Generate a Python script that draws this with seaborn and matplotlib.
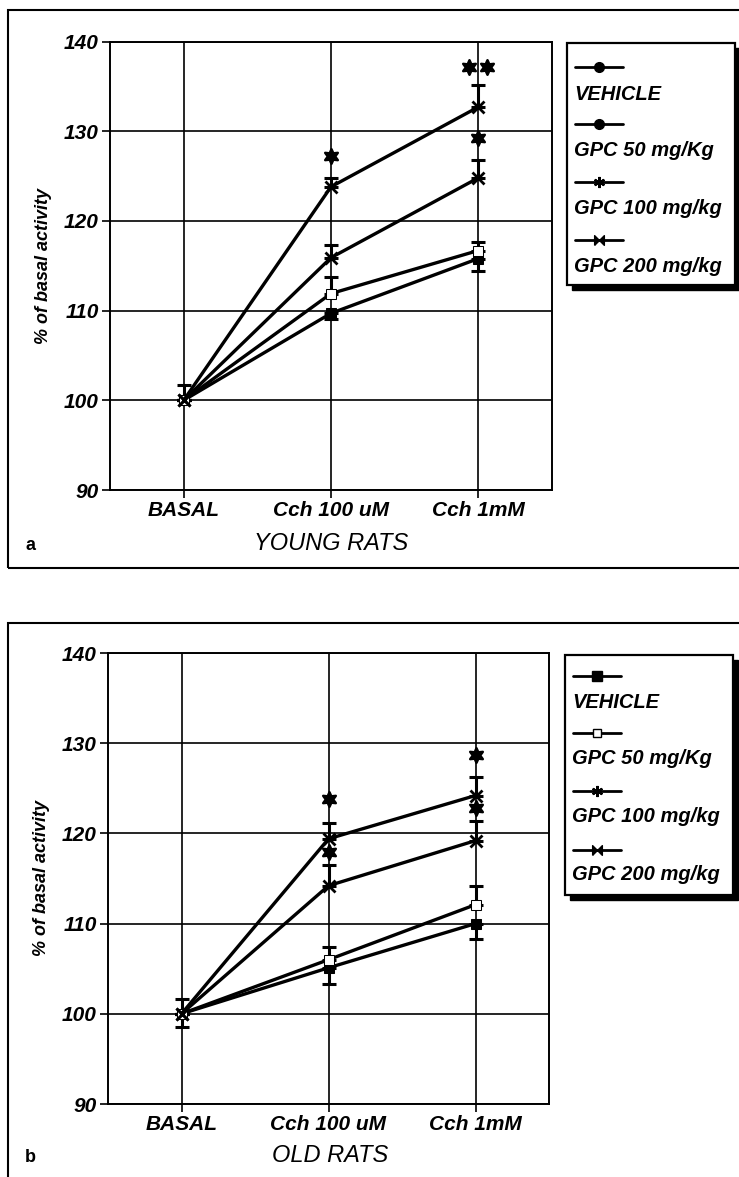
import numpy as np
import pandas as pd
import matplotlib
matplotlib.use("Agg")
import matplotlib.pyplot as plt
import matplotlib.transforms as mtransforms
from matplotlib.patches import Rectangle
from matplotlib.lines import Line2D
import seaborn as sns

# ---------------- data ----------------
categories = ["BASAL", "Cch 100 uM", "Cch 1mM"]
series = ["VEHICLE", "GPC 50 mg/Kg", "GPC 100 mg/kg", "GPC 200 mg/kg"]
yticks = [90, 100, 110, 120, 130, 140]

# panel a: young rats
young_vehicle = [100, 109.7, 115.8]
young_gpc50 = [100, 111.9, 116.7]
young_gpc100 = [100, 115.9, 124.8]
young_gpc200 = [100, 123.8, 132.7]
young_err_lo = {"VEHICLE": [0, 0.6, 1.4], "GPC 50 mg/Kg": [0, 0, 0],
                "GPC 100 mg/kg": [0, 0, 0], "GPC 200 mg/kg": [0, 0, 0]}
young_err_hi = {"VEHICLE": [0, 0, 0], "GPC 50 mg/Kg": [1.7, 1.9, 1.0],
                "GPC 100 mg/kg": [0, 1.4, 2.0], "GPC 200 mg/kg": [0, 1.0, 2.4]}
young_sig_cat = [1, 2, 2]
young_sig_y = [127.2, 129.2, 137.2]
young_sig_n = [1, 1, 2]

# panel b: old rats
old_vehicle = [100, 105.1, 110.0]
old_gpc50 = [100, 106.0, 112.1]
old_gpc100 = [100, 114.2, 119.2]
old_gpc200 = [100, 119.4, 124.2]
old_err_lo = {"VEHICLE": [1.5, 1.8, 1.7], "GPC 50 mg/Kg": [0, 0, 0],
              "GPC 100 mg/kg": [0, 0, 0], "GPC 200 mg/kg": [0, 0, 0]}
old_err_hi = {"VEHICLE": [0, 0, 0], "GPC 50 mg/Kg": [1.6, 1.4, 2.1],
              "GPC 100 mg/kg": [0, 2.3, 2.2], "GPC 200 mg/kg": [0, 1.7, 2.1]}
old_sig_cat = [1, 1, 2, 2]
old_sig_y = [123.8, 117.9, 128.7, 122.8]
old_sig_n = [1, 1, 1, 1]

# ---------------- style ----------------
sns.set_style("white")
FONT = ["Liberation Sans Narrow", "Liberation Sans", "DejaVu Sans"]
plt.rcParams["font.family"] = FONT
for key in ["text.color", "axes.labelcolor", "xtick.color", "ytick.color", "axes.edgecolor"]:
    plt.rcParams[key] = "black"

W, H = 739, 1177
fig = plt.figure(figsize=(W / 100, H / 100), dpi=100)


def fx(px):
    return px / W


def fy(py):
    return 1 - py / H


bowtie = [(-1, -1), (1, 1), (1, -1), (-1, 1), (-1, -1)]
mstyle = {
    "VEHICLE": dict(marker="s", markersize=7, markerfacecolor="black"),
    "GPC 50 mg/Kg": dict(marker="s", markersize=7, markerfacecolor="white"),
    "GPC 100 mg/kg": dict(marker="x", markersize=8, markerfacecolor="black", markeredgewidth=2),
    "GPC 200 mg/kg": dict(marker="x", markersize=9, markerfacecolor="black", markeredgewidth=2),
}
legend_style_a = {
    "VEHICLE": dict(marker="o", markersize=7, markerfacecolor="black"),
    "GPC 50 mg/Kg": dict(marker="o", markersize=7, markerfacecolor="black"),
    "GPC 100 mg/kg": dict(marker=(6, 2, 0), markersize=8, markeredgewidth=1.5),
    "GPC 200 mg/kg": dict(marker=bowtie, markersize=7, markerfacecolor="black"),
}
legend_style_b = {
    "VEHICLE": dict(marker="s", markersize=7, markerfacecolor="black"),
    "GPC 50 mg/Kg": dict(marker="s", markersize=6, markerfacecolor="white"),
    "GPC 100 mg/kg": dict(marker=(6, 2, 0), markersize=8, markeredgewidth=1.5),
    "GPC 200 mg/kg": dict(marker=bowtie, markersize=7, markerfacecolor="black"),
}


def draw_panel(ax, vals, err_lo, err_hi, sig_cat, sig_y, sig_n):
    x = np.arange(len(categories))
    for name, v in zip(series, vals):
        st = dict(mstyle[name])
        sns.lineplot(x=x, y=v, ax=ax, color="black", lw=2.4, errorbar=None,
                     markeredgecolor="black", legend=False, zorder=4, **st)
        ax.errorbar(x, v, yerr=[err_lo[name], err_hi[name]], fmt="none",
                    ecolor="black", elinewidth=2.2, capsize=5, capthick=2.2, zorder=3)
    # significance markers
    for c, yv, n in zip(sig_cat, sig_y, sig_n):
        offs = [0] if n == 1 else [-9, 9]
        for o in offs:
            tr = ax.transData + mtransforms.ScaledTranslation(o / 100, 0, fig.dpi_scale_trans)
            ax.scatter([c], [yv], marker=(6, 1, 0), s=110, color="black",
                       linewidths=1.8, transform=tr, zorder=5)
    ax.set_xlim(-0.5, 2.5)
    ax.set_ylim(90, 140)
    ax.set_yticks(yticks)
    ax.set_xticks(x)
    ax.set_xticklabels(categories)
    ax.grid(True, color="black", lw=1.2, zorder=1)
    ax.set_axisbelow(True)
    for sp in ax.spines.values():
        sp.set_color("black")
        sp.set_linewidth(1.4)
    ax.tick_params(axis="both", direction="out", length=6, width=1.2, color="black",
                   labelcolor="black", left=True, bottom=True, pad=2)
    for lab in ax.get_yticklabels():
        lab.set_fontsize(15)
        lab.set_fontweight("bold")
        lab.set_fontstyle("italic")
    for lab in ax.get_xticklabels():
        lab.set_fontsize(15)
        lab.set_fontweight("bold")
        lab.set_fontstyle("italic")
    ax.set_ylabel("% of basal activity", fontsize=13, fontweight="bold",
                  fontstyle="italic", labelpad=9, color="black")
    ax.set_xlabel("")


def draw_legend(x0, y0, x1, y1, styles, handle_rows, label_rows):
    # shadow
    fig.patches.append(Rectangle((fx(x0 + 5), fy(y1 + 5)), (x1 - x0) / W, (y1 - y0) / H,
                                 transform=fig.transFigure, facecolor="black",
                                 edgecolor="black", zorder=1))
    fig.patches.append(Rectangle((fx(x0), fy(y1)), (x1 - x0) / W, (y1 - y0) / H,
                                 transform=fig.transFigure, facecolor="white",
                                 edgecolor="black", lw=1.6, zorder=2))
    for name, hy, ly in zip(series, handle_rows, label_rows):
        ln = Line2D([fx(x0 + 8), fx(x0 + 56)], [fy(hy), fy(hy)], color="black", lw=2,
                    transform=fig.transFigure, zorder=3)
        fig.lines.append(ln)
        mk = Line2D([fx(x0 + 32)], [fy(hy)], color="black", lw=0, markeredgecolor="black",
                    transform=fig.transFigure, zorder=4, **styles[name])
        fig.lines.append(mk)
        fig.text(fx(x0 + 7), fy(ly), name, fontsize=14.5, fontweight="bold",
                 fontstyle="italic", va="center", ha="left", zorder=5, color="black")


# ---------------- outer frames ----------------
fig.patches.append(Rectangle((fx(8), fy(568)), 1.0, (568 - 10) / H, transform=fig.transFigure,
                             fill=False, edgecolor="black", lw=1.5))
fig.patches.append(Rectangle((fx(8), fy(1200)), 1.0, (1200 - 623) / H, transform=fig.transFigure,
                             fill=False, edgecolor="black", lw=1.5))

# ---------------- panel a ----------------
ax1 = fig.add_axes([fx(110), fy(490), (552 - 110) / W, (490 - 41.5) / H])
draw_panel(ax1, [young_vehicle, young_gpc50, young_gpc100, young_gpc200],
           young_err_lo, young_err_hi, young_sig_cat, young_sig_y, young_sig_n)
fig.text(fx(331), fy(544), "YOUNG RATS", fontsize=17, fontstyle="italic",
         ha="center", va="center", color="black")
fig.text(fx(30), fy(545), "a", fontsize=13, fontweight="bold", ha="center", va="center",
         color="black")
draw_legend(567, 43, 735, 285, legend_style_a, [67, 124, 182, 240], [94, 151, 209, 266])

# ---------------- panel b ----------------
ax2 = fig.add_axes([fx(108), fy(1104), (549 - 108) / W, (1104 - 653) / H])
draw_panel(ax2, [old_vehicle, old_gpc50, old_gpc100, old_gpc200],
           old_err_lo, old_err_hi, old_sig_cat, old_sig_y, old_sig_n)
fig.text(fx(330), fy(1155), "OLD RATS", fontsize=17, fontstyle="italic",
         ha="center", va="center", color="black")
fig.text(fx(30), fy(1157), "b", fontsize=13, fontweight="bold", ha="center", va="center",
         color="black")
draw_legend(565, 655, 733, 895, legend_style_b, [676, 733, 791, 850], [702, 759, 817, 874])

fig.savefig("out.png", dpi=100)
